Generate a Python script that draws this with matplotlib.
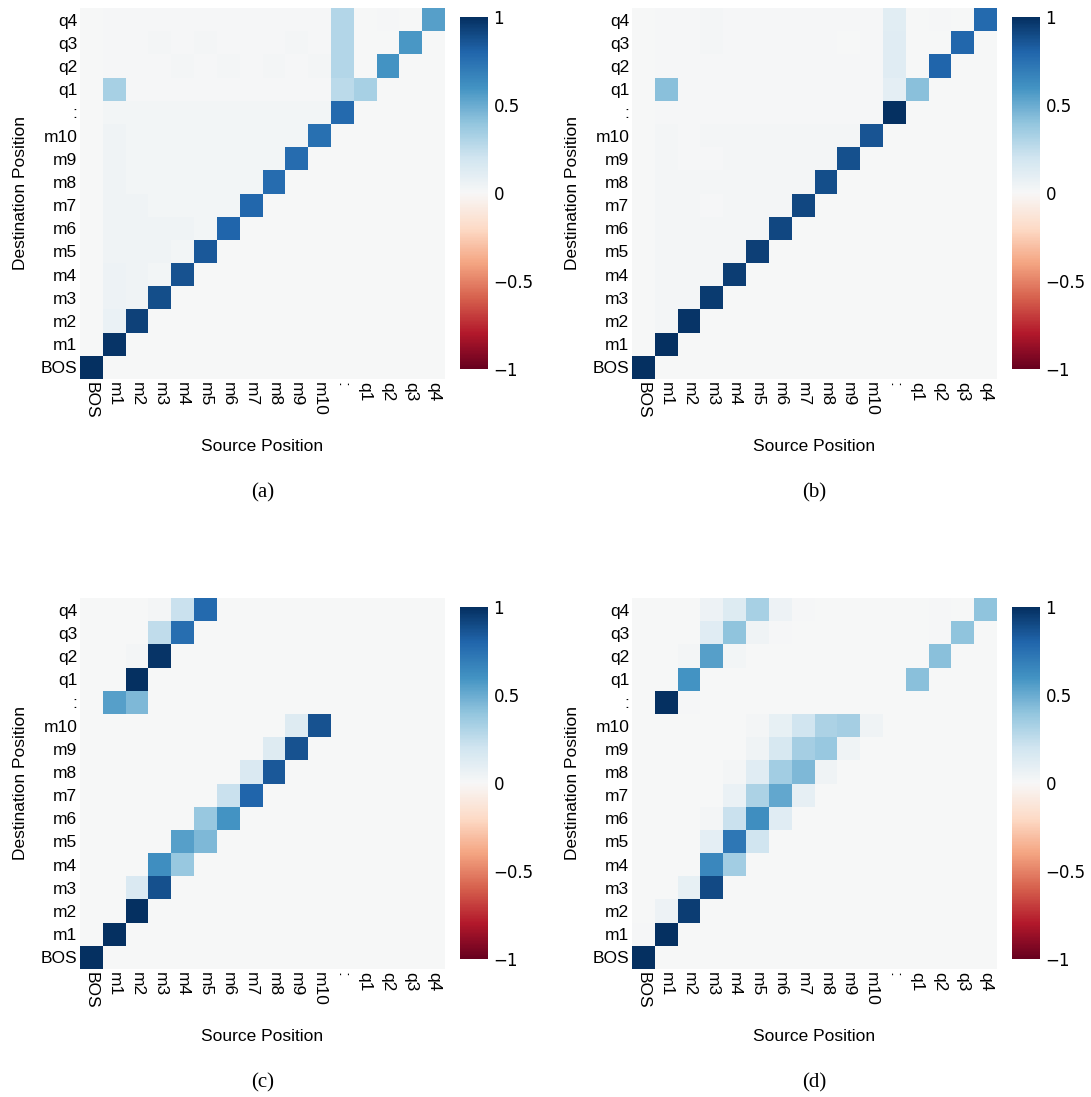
import numpy as np
import matplotlib
matplotlib.use("Agg")
import matplotlib.pyplot as plt

labels = ['BOS', 'm1', 'm2', 'm3', 'm4', 'm5', 'm6', 'm7', 'm8', 'm9', 'm10',
          ':', 'q1', 'q2', 'q3', 'q4']
captions = ['(a)', '(b)', '(c)', '(d)']
cbar_ticks = [-1, -0.5, 0, 0.5, 1]
cbar_labels = ['\u22121', '\u22120.5', '0', '0.5', '1']

# rows = destination (BOS .. q4), cols = source; trailing zeros omitted
attn_a = [
    [1.00],
    [0, 0.98],
    [0, 0.07, 0.93],
    [0, 0.05, 0.04, 0.89],
    [0, 0.05, 0.04, 0.03, 0.87],
    [0, 0.04, 0.04, 0.04, 0.03, 0.85],
    [0, 0.04, 0.04, 0.04, 0.04, 0.03, 0.80],
    [0, 0.04, 0.04, 0.03, 0.03, 0.03, 0.03, 0.79],
    [0, 0.04, 0.03, 0.03, 0.03, 0.03, 0.03, 0.03, 0.77],
    [0, 0.04, 0.03, 0.03, 0.03, 0.03, 0.03, 0.03, 0.03, 0.77],
    [0, 0.04, 0.03, 0.03, 0.03, 0.03, 0.03, 0.03, 0.03, 0.03, 0.75],
    [0, 0.03, 0.03, 0.03, 0.03, 0.03, 0.03, 0.03, 0.03, 0.03, 0.03, 0.78],
    [0, 0.33, 0.01, 0.01, 0.01, 0.01, 0.01, 0.01, 0.01, 0.01, 0.01, 0.27, 0.33],
    [0, 0.01, 0.01, 0.01, 0.02, 0.01, 0.02, 0.01, 0.02, 0.01, 0.02, 0.29, 0.00, 0.60],
    [0, 0.01, 0.01, 0.02, 0.01, 0.02, 0.01, 0.01, 0.01, 0.02, 0.01, 0.29, 0.00, 0.00, 0.58],
    [0, 0.01, 0.01, 0.01, 0.01, 0.01, 0.01, 0.01, 0.01, 0.01, 0.01, 0.29, 0.00, 0.01, 0.00, 0.55],
]

attn_b = [
    [1.00],
    [0, 1.00],
    [0, 0.02, 0.98],
    [0, 0.02, 0.02, 0.96],
    [0, 0.02, 0.02, 0.02, 0.95],
    [0, 0.02, 0.02, 0.02, 0.02, 0.94],
    [0, 0.02, 0.02, 0.02, 0.02, 0.02, 0.91],
    [0, 0.02, 0.02, 0.01, 0.02, 0.02, 0.02, 0.91],
    [0, 0.02, 0.02, 0.02, 0.02, 0.02, 0.02, 0.02, 0.89],
    [0, 0.02, 0.01, 0.01, 0.02, 0.02, 0.02, 0.02, 0.02, 0.88],
    [0, 0.02, 0.01, 0.02, 0.02, 0.02, 0.02, 0.02, 0.02, 0.02, 0.86],
    [0, 0.01, 0.01, 0.01, 0.01, 0.01, 0.01, 0.01, 0.01, 0.01, 0.01, 1.00],
    [0, 0.42, 0.01, 0.01, 0.01, 0.01, 0.01, 0.01, 0.01, 0.01, 0.01, 0.10, 0.42],
    [0, 0.01, 0.01, 0.01, 0.01, 0.01, 0.01, 0.01, 0.01, 0.01, 0.01, 0.12, 0.00, 0.80],
    [0, 0.01, 0.01, 0.02, 0.01, 0.01, 0.01, 0.01, 0.01, 0.00, 0.01, 0.12, 0.00, 0.00, 0.79],
    [0, 0.01, 0.01, 0.02, 0.01, 0.01, 0.01, 0.01, 0.01, 0.01, 0.01, 0.11, 0.00, 0.01, 0.00, 0.78],
]

attn_c = [
    [1.00],
    [0, 1.00],
    [0, 0, 1.00],
    [0, 0, 0.15, 0.88],
    [0, 0, 0, 0.62, 0.38],
    [0, 0, 0, 0, 0.55, 0.45],
    [0, 0, 0, 0, 0, 0.38, 0.60],
    [0, 0, 0, 0, 0, 0, 0.22, 0.80],
    [0, 0, 0, 0, 0, 0, 0, 0.15, 0.85],
    [0, 0, 0, 0, 0, 0, 0, 0, 0.13, 0.87],
    [0, 0, 0, 0, 0, 0, 0, 0, 0, 0.13, 0.87],
    [0, 0.55, 0.45],
    [0, 0, 1.00],
    [0, 0, 0.02, 0.98],
    [0, 0, 0, 0.25, 0.76],
    [0, 0, 0, 0.02, 0.22, 0.78],
]

attn_d = [
    [1.00],
    [0.01, 1.00],
    [0, 0.05, 0.95],
    [0, 0, 0.08, 0.90],
    [0, 0, 0, 0.65, 0.35],
    [0, 0, 0, 0.10, 0.72, 0.20],
    [0, 0, 0, 0.02, 0.22, 0.62, 0.12],
    [0, 0, 0, 0, 0.07, 0.32, 0.52, 0.09],
    [0, 0, 0, 0, 0.02, 0.12, 0.35, 0.45, 0.04],
    [0, 0, 0, 0, 0, 0.04, 0.17, 0.34, 0.38, 0.04],
    [0, 0, 0, 0, 0, 0.02, 0.08, 0.20, 0.32, 0.34, 0.04],
    [0, 1.00, 0.01],
    [0, 0, 0.60, 0.00, 0, 0, 0, 0, 0, 0, 0, 0, 0.42],
    [0, 0, 0.02, 0.55, 0.03, 0, 0, 0, 0, 0, 0, 0, 0, 0.42],
    [0, 0, 0, 0.12, 0.40, 0.04, 0.01, 0, 0, 0, 0, 0, 0, 0.01, 0.40],
    [0, 0, 0, 0.05, 0.14, 0.33, 0.05, 0.01, 0, 0, 0, 0, 0, 0.01, 0, 0.40],
]


def to_matrix(rows):
    n = len(labels)
    m = np.zeros((n, n))
    for i, r in enumerate(rows):
        m[i, :len(r)] = r
    return m


panels = [to_matrix(p) for p in (attn_a, attn_b, attn_c, attn_d)]

W, H = 1091, 1097
fig = plt.figure(figsize=(W / 100, H / 100), dpi=100)

tick_font = dict(family='Liberation Sans', size=12.5)
label_font = dict(family='Liberation Sans', size=12.5)

# pixel positions of the heatmap top-left corners
lefts = [80, 632]
tops = [8, 598]

for k, mat in enumerate(panels):
    col, row = k % 2, k // 2
    x0, y0 = lefts[col], tops[row]
    hx1, hy1 = x0 + 365, y0 + 371
    ax = fig.add_axes([x0 / W, 1 - hy1 / H, 365 / W, 371 / H])
    n = len(labels)
    mesh = ax.pcolormesh(np.arange(n + 1), np.arange(n + 1), mat,
                         cmap='RdBu', vmin=-1, vmax=1)
    ax.set_xlim(0, n)
    ax.set_ylim(0, n)
    ax.set_xticks(np.arange(n) + 0.5)
    ax.set_yticks(np.arange(n) + 0.5)
    ax.set_xticklabels(labels, rotation=-90, **tick_font)
    ax.set_yticklabels(labels, **tick_font)
    ax.tick_params(length=0, pad=2)
    for s in ax.spines.values():
        s.set_visible(False)
    ax.set_xlabel('Source Position', labelpad=15, **label_font)
    ax.set_ylabel('Destination Position', labelpad=9, **label_font)

    cx0 = x0 + 380
    cax = fig.add_axes([cx0 / W, 1 - (y0 + 361) / H, 28 / W, 352 / H])
    cb = fig.colorbar(mesh, cax=cax, ticks=cbar_ticks)
    cb.outline.set_visible(False)
    cax.set_yticklabels(cbar_labels, family='DejaVu Sans', size=12)
    cax.tick_params(length=0, pad=4)

    fig.text((x0 + hx1) / 2 / W, 1 - (y0 + 485) / H, captions[k],
             ha='center', va='center', family='Liberation Serif', size=15)

fig.savefig('out.png', dpi=100)
